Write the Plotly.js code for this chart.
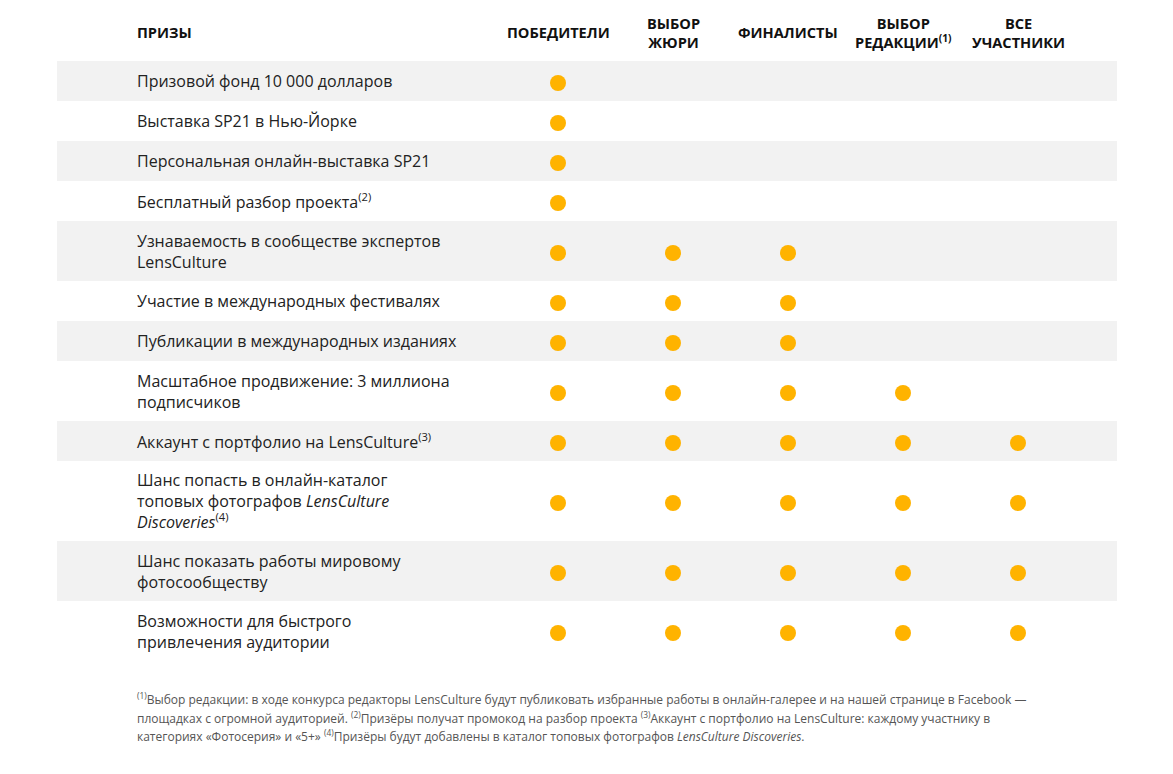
<!DOCTYPE html>
<html>
<head>
<meta charset="utf-8">
<script src="https://cdn.plot.ly/plotly-3.0.1.min.js"></script>
<style>html,body{margin:0;padding:0;background:#fff;}#chart{width:1173px;height:774px;}</style>
</head>
<body>
<div id="chart"></div>
<script>
// ---- data ----
const columnKeys = ['winners', 'jury', 'finalists', 'editors', 'all'];
const columnHeaders = ['ПОБЕДИТЕЛИ', 'ВЫБОР<br>ЖЮРИ', 'ФИНАЛИСТЫ', 'ВЫБОР<br>РЕДАКЦИИ<sup>(1)</sup>', 'ВСЕ<br>УЧАСТНИКИ'];
const corner = 'ПРИЗЫ';

const prizes = [
  'Призовой фонд 10 000 долларов',
  'Выставка SP21 в Нью-Йорке',
  'Персональная онлайн-выставка SP21',
  'Бесплатный разбор проекта<sup>(2)</sup>',
  'Узнаваемость в сообществе экспертов<br>LensCulture',
  'Участие в международных фестивалях',
  'Публикации в международных изданиях',
  'Масштабное продвижение: 3 миллиона<br>подписчиков',
  'Аккаунт с портфолио на LensCulture<sup>(3)</sup>',
  'Шанс попасть в онлайн-каталог<br>топовых фотографов <i>LensCulture</i><br><i>Discoveries</i><sup>(4)</sup>',
  'Шанс показать работы мировому<br>фотосообществу',
  'Возможности для быстрого<br>привлечения аудитории'
];

// 1 = prize is awarded to this group (columns: winners, jury, finalists, editors, all)
const awarded = [
  [1,0,0,0,0],
  [1,0,0,0,0],
  [1,0,0,0,0],
  [1,0,0,0,0],
  [1,1,1,0,0],
  [1,1,1,0,0],
  [1,1,1,0,0],
  [1,1,1,1,0],
  [1,1,1,1,1],
  [1,1,1,1,1],
  [1,1,1,1,1],
  [1,1,1,1,1]
];

const footnoteLines = [
  '<sup>(1)</sup>Выбор редакции: в ходе конкурса редакторы LensCulture будут публиковать избранные работы в онлайн-галерее и на нашей странице в Facebook —',
  'площадках с огромной аудиторией. <sup>(2)</sup>Призёры получат промокод на разбор проекта <sup>(3)</sup>Аккаунт с портфолио на LensCulture: каждому участнику в',
  'категориях «Фотосерия» и «5+» <sup>(4)</sup>Призёры будут добавлены в каталог топовых фотографов <i>LensCulture Discoveries</i>.'
];

// ---- layout helpers ----
const W = 1173, H = 774;
const FONT = '"Open Sans", "Noto Sans", sans-serif';
const tableTop = 61;      // px
const unitPx = 20;        // one y unit = 20 px
const colStart = 558, colStep = 115; // px of first column centre, column spacing
const textLeft = 135 / W;

// row heights in y units: lines + 1
const rowHeights = prizes.map(p => p.split('<br>').length + 1);
const rowTops = [];
let acc = 0;
rowHeights.forEach(h => { rowTops.push(acc); acc += h; });
const rowCenters = rowTops.map((t, i) => t + rowHeights[i] / 2);

const xs = [], ys = [];
awarded.forEach((row, r) => row.forEach((v, c) => {
  if (v) { xs.push(columnKeys[c]); ys.push(rowCenters[r]); }
}));

const shapes = [];
rowTops.forEach((t, i) => {
  if (i % 2 === 0) {
    shapes.push({type: 'rect', xref: 'paper', yref: 'y', x0: 57 / W, x1: 1117 / W,
      y0: t, y1: t + rowHeights[i], fillcolor: '#f2f2f2', line: {width: 0}, layer: 'below'});
  }
});

const annotations = [];
const headerY = (32 - tableTop) / unitPx;
annotations.push({xref: 'paper', yref: 'y', x: textLeft, y: headerY, xanchor: 'left', yanchor: 'middle',
  text: '<b>' + corner + '</b>', showarrow: false, font: {family: FONT, size: 14.6, color: '#111'}});
columnHeaders.forEach((h, c) => {
  annotations.push({xref: 'x', yref: 'y', x: columnKeys[c], y: headerY, xanchor: 'center', yanchor: 'middle',
    text: '<b>' + h + '</b>', showarrow: false, align: 'center', font: {family: FONT, size: 14.6, color: '#111'}});
});
prizes.forEach((p, i) => {
  annotations.push({xref: 'paper', yref: 'y', x: textLeft, y: rowCenters[i], xanchor: 'left', yanchor: 'middle',
    text: p, align: 'left', showarrow: false, font: {family: FONT, size: 16, color: '#222'}});
});
const footY = [699, 718, 736];
footnoteLines.forEach((l, i) => {
  annotations.push({xref: 'paper', yref: 'paper', x: textLeft, y: 1 - footY[i] / H, xanchor: 'left', yanchor: 'middle',
    text: l, align: 'left', showarrow: false, font: {family: FONT, size: 12, color: '#555'}});
});

const trace = {
  type: 'scatter', mode: 'markers', x: xs, y: ys, yaxis: 'y2',
  marker: {size: 16, color: '#ffb300', line: {width: 0}},
  hoverinfo: 'skip'
};

const yTop = -tableTop / unitPx, yBottom = (H - tableTop) / unitPx;
const dotShift = 0.1; // dots sit slightly below row centre in the reference
const layout = {
  width: W, height: H,
  margin: {l: 0, r: 0, t: 0, b: 0},
  paper_bgcolor: '#fff', plot_bgcolor: '#fff',
  showlegend: false,
  xaxis: {type: 'category', categoryorder: 'array', categoryarray: columnKeys,
    range: [-colStart / colStep, (W - colStart) / colStep], visible: false, fixedrange: true},
  yaxis: {range: [yBottom, yTop], visible: false, fixedrange: true},
  yaxis2: {range: [yBottom - dotShift, yTop - dotShift], overlaying: 'y', visible: false, fixedrange: true},
  shapes: shapes,
  annotations: annotations,
  font: {family: FONT}
};

Plotly.newPlot('chart', [trace], layout, {displayModeBar: false, staticPlot: true});
</script>
</body>
</html>
